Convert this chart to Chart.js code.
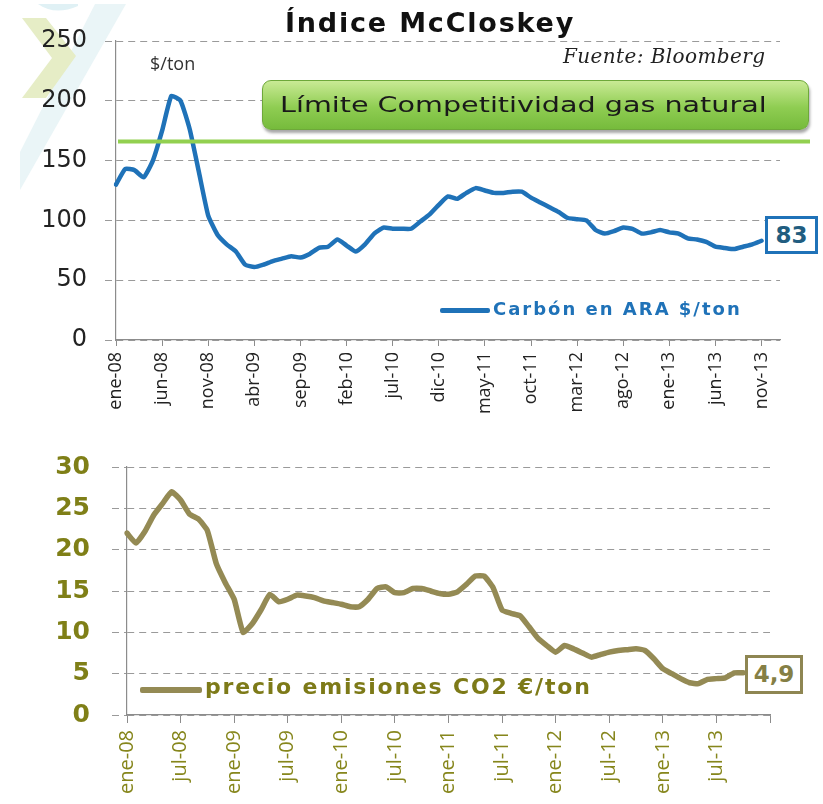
<!DOCTYPE html>
<html>
<head>
<meta charset="utf-8">
<script src="https://cdn.jsdelivr.net/npm/chart.js@4.4.1/dist/chart.umd.min.js"></script>
<style>
  body { margin: 0; background: #fff; width: 823px; height: 804px; overflow: hidden; position: relative; font-family: "DejaVu Sans", sans-serif; }
  canvas { position: absolute; left: 0; }
  #logo { position: absolute; left: 0; top: 0; }
  #coal { top: 0; }
  #co2 { top: 430px; }
  .txt { position: absolute; white-space: nowrap; transform-origin: left center; }
  #title { left: 285px; top: 7px; font: bold 27px "DejaVu Sans"; letter-spacing: 1.8px; color: #111; }
  #source { left: 563px; top: 44px; font: italic 20px "DejaVu Serif"; letter-spacing: 0.4px; color: #222; }
  #unit { left: 150px; top: 51px; font: 18px "Open Sans"; color: #333; }
  #limit { position: absolute; left: 262px; top: 80px; width: 545px; height: 48px; border-radius: 9px;
           background: linear-gradient(#c9ea95, #8fcd52 55%, #76bb3c); border: 1px solid #6ea83a;
           box-shadow: 1px 3px 3px rgba(0,0,0,0.35); }
  #limit span { position: absolute; left: 17px; top: 11px; white-space: nowrap; font: 22px "DejaVu Sans"; color: #1a1a1a;
                transform: scaleX(1.3); transform-origin: left center; }
  .legline { position: absolute; height: 5px; border-radius: 2px; }
  #leg1line { left: 440px; top: 308px; width: 50px; background: #1f72b8; }
  #leg1 { left: 493px; top: 298px; font: bold 18px "DejaVu Sans"; letter-spacing: 2px; color: #1f72b8; }
  #leg2line { left: 140px; top: 687px; width: 62px; height: 6px; background: #948a54; }
  #leg2 { left: 205px; top: 674px; font: bold 22px "DejaVu Sans"; color: #7d7a18; letter-spacing: 1.8px; }
  .box { position: absolute; background: #fff; text-align: center; font-weight: bold; }
  #box1 { left: 765px; top: 216px; width: 47px; height: 32px; border: 3px solid #1f72b8; color: #215d80; font-size: 23px; line-height: 32px; }
  #box2 { left: 745px; top: 655px; width: 52px; height: 33px; border: 3px solid #8e8652; color: #857f45; font-size: 23px; line-height: 33px; }
</style>
</head>
<body>
<svg id="logo" width="140" height="200">
  <polygon points="95,4 126,4 20,190 20,152" fill="#eaf5f7"/>
  <path d="M38,4 Q55,16 78,6 L78,4 Z" fill="#e0f1f5"/>
  <polygon points="22,18 46,18 76,56 46,98 22,98 52,58" fill="#e6edc6"/>
</svg>
<canvas id="coal" width="823" height="430"></canvas>
<canvas id="co2" width="823" height="374"></canvas>
<div class="txt" id="title">Índice McCloskey</div>
<div class="txt" id="source">Fuente: Bloomberg</div>
<div class="txt" id="unit">$/ton</div>
<div id="limit"><span>Límite Competitividad gas natural</span></div>
<div class="legline" id="leg1line"></div>
<div class="txt" id="leg1">Carbón en ARA $/ton</div>
<div class="legline" id="leg2line"></div>
<div class="txt" id="leg2">precio emisiones CO2 €/ton</div>
<div class="box" id="box1">83</div>
<div class="box" id="box2">4,9</div>
<script>
// ── Data (monthly, ene-08 .. ene-14) ─────────────────────
const MONTH_NAMES = ['ene','feb','mar','abr','may','jun','jul','ago','sep','oct','nov','dic'];
const MONTH_LABELS = [];
for (let y = 8; y <= 14; y++) {
  MONTH_NAMES.forEach((m, i) => { if (y < 14 || i === 0) MONTH_LABELS.push(m + '-' + String(y).padStart(2, '0')); });
}

// Carbón en ARA $/ton
const COAL_PRICE = [
  130, 143, 142, 136, 150, 175, 204, 200, 176, 140, 104, 88,
  80, 74, 63, 61, 63, 66, 68, 70, 69, 72, 77, 78,
  84, 79, 74, 80, 89, 94, 93, 93, 93, 99, 105, 113,
  120, 118, 123, 127, 125, 123, 123, 124, 124, 119, 115, 111,
  107, 102, 101, 100, 92, 89, 91, 94, 93, 89, 90, 92,
  90, 89, 85, 84, 82, 78, 77, 76, 78, 80, 83, null, null,
];
const GAS_LIMIT = 166;

// precio emisiones CO2 €/ton
const CO2_PRICE = [
  22.0, 20.8, 22.2, 24.2, 25.6, 27.0, 26.0, 24.3, 23.7, 22.3, 18.3, 16.0,
  14.0, 10.0, 11.0, 12.7, 14.6, 13.7, 14.0, 14.5, 14.4, 14.2, 13.8, 13.6,
  13.4, 13.1, 13.1, 14.0, 15.3, 15.5, 14.8, 14.8, 15.3, 15.3, 15.0, 14.7,
  14.6, 14.9, 15.8, 16.8, 16.8, 15.4, 12.7, 12.3, 12.0, 10.7, 9.3, 8.4,
  7.6, 8.4, 8.0, 7.5, 7.0, 7.3, 7.6, 7.8, 7.9, 8.0, 7.8, 6.8,
  5.6, 5.0, 4.4, 3.9, 3.8, 4.3, 4.4, 4.5, 5.1, 5.1, null, null, null,
];

const COAL_TICKS = [0, 50, 100, 150, 200, 250];
const CO2_TICKS  = [0, 5, 10, 15, 20, 25, 30];

// ── Plugins ──────────────────────────────────────────────
const limitLine = {
  id: 'limitLine',
  afterDatasetsDraw(chart) {
    const { ctx, chartArea, scales } = chart;
    const y = scales.y.getPixelForValue(GAS_LIMIT);
    ctx.save();
    ctx.strokeStyle = '#92d050';
    ctx.lineWidth = 4;
    ctx.beginPath();
    ctx.moveTo(chartArea.left + 2, y);
    ctx.lineTo(chartArea.right + 30, y);
    ctx.stroke();
    ctx.restore();
  },
};

function makeChart(id, data, opts) {
  return new Chart(document.getElementById(id), {
    type: 'line',
    data: {
      labels: MONTH_LABELS,
      datasets: [{
        data, borderColor: opts.color, borderWidth: opts.lineWidth, pointRadius: 0,
        tension: 0.15, borderJoinStyle: 'round', borderCapStyle: 'round', spanGaps: false,
      }],
    },
    options: {
      responsive: false, animation: false,
      layout: { padding: opts.padding },
      plugins: { legend: { display: false }, tooltip: { enabled: false } },
      scales: {
        x: {
          afterFit: s => { s.height = opts.xHeight; },
          grid: { drawOnChartArea: false, color: '#8c8c8c', tickLength: opts.xTick },
          border: { color: '#8c8c8c', width: 1.2 },
          ticks: {
            autoSkip: false, minRotation: 90, maxRotation: 90, padding: opts.xPad,
            color: opts.xColor, font: opts.xFont,
            callback: opts.xCallback,
          },
        },
        y: {
          min: opts.yTicks[0], max: opts.yTicks[opts.yTicks.length - 1],
          afterFit: s => { s.width = opts.yWidth; },
          afterBuildTicks: s => { s.ticks = opts.yTicks.map(v => ({ value: v })); },
          grid: { color: '#9a9a9a', lineWidth: 1, tickLength: opts.yTick, tickBorderDash: [7, 5] },
          border: { color: '#8c8c8c', width: 1.2, dash: [7, 5] },
          ticks: { padding: opts.yPad, color: opts.yColor, font: opts.yFont },
        },
      },
    },
    plugins: opts.plugins || [],
  });
}

makeChart('coal', COAL_PRICE, {
  color: '#1f72b8', lineWidth: 4.5,
  padding: { top: 41, right: 43, left: 0, bottom: 0 },
  xHeight: 90, yWidth: 116, xTick: 6, yTick: 11, xPad: 6, yPad: 18,
  xColor: '#222', xFont: { family: 'Open Sans', size: 18 },
  yColor: '#222', yFont: { family: 'DejaVu Sans', size: 24 },
  yTicks: COAL_TICKS,
  xCallback(v, i) { return i % 5 === 0 ? this.getLabelForValue(v) : null; },
  plugins: [limitLine],
});

makeChart('co2', CO2_PRICE, {
  color: '#948a54', lineWidth: 5.5,
  padding: { top: 22, right: 53, left: 0, bottom: 0 },
  xHeight: 89, yWidth: 127, xTick: 8, yTick: 15, xPad: 7, yPad: 22,
  xColor: '#86861c', xFont: { family: 'Open Sans', size: 20 },
  yColor: '#7f7f17', yFont: { family: 'DejaVu Sans', size: 25, weight: 'bold' },
  yTicks: CO2_TICKS,
  xCallback(v, i) { return i === 72 ? '' : (i % 6 === 0 ? this.getLabelForValue(v) : null); },
});
</script>
</body>
</html>
